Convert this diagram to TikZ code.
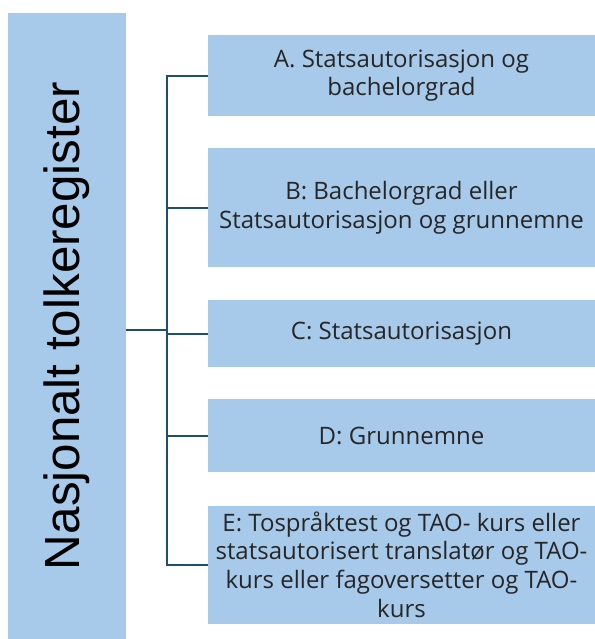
\documentclass[tikz,border=0pt]{standalone}
\usepackage{fontspec}
\setmainfont{Open Sans}
\newfontfamily\rootfont{Liberation Sans}
\definecolor{boxblue}{RGB}{167,201,234}
\definecolor{linkblue}{RGB}{30,80,110}

\begin{document}
\begin{tikzpicture}[x=0.75pt, y=-0.75pt,
		level/.style={fill=boxblue, align=center, minimum width=290.25pt, inner sep=0pt, text=black!85, font=\fontsize{18}{21.5}\selectfont},
		link/.style={draw=linkblue, line width=1.5pt}]
				\useasboundingbox (0,0) rectangle (595,639);
				\node (R) [fill=boxblue, rotate=90, minimum width=469.5pt, minimum height=88.5pt, font=\rootfont\fontsize{37}{40}\selectfont] at (67,326) {Nasjonalt tolkeregister};
				\node (A) [level, minimum height=60.75pt] at (401.5,75.5) {A. Statsautorisasjon og\\bachelorgrad};
				\node (B) [level, minimum height=89.25pt] at (401.5,207.5) {B: Bachelorgrad eller\\Statsautorisasjon og grunnemne};
				\node (C) [level, minimum height=50.25pt] at (401.5,333.5) {C: Statsautorisasjon};
				\node (D) [level, minimum height=54.75pt] at (401.5,435.5) {D: Grunnemne};
				\node (E) [level, minimum height=88.5pt] at (401.5,564.5) {E: Tospråktest og TAO- kurs eller\\statsautorisert translatør og TAO-\\kurs eller fagoversetter og TAO-\\kurs};
				\coordinate (H) at (167,330);

				\draw[link] (R.south |- H) -- (H);
				\foreach \n in {A,B,C,D,E}
					\draw[link] (H) |- (\n.west);
			\end{tikzpicture}
\end{document}
